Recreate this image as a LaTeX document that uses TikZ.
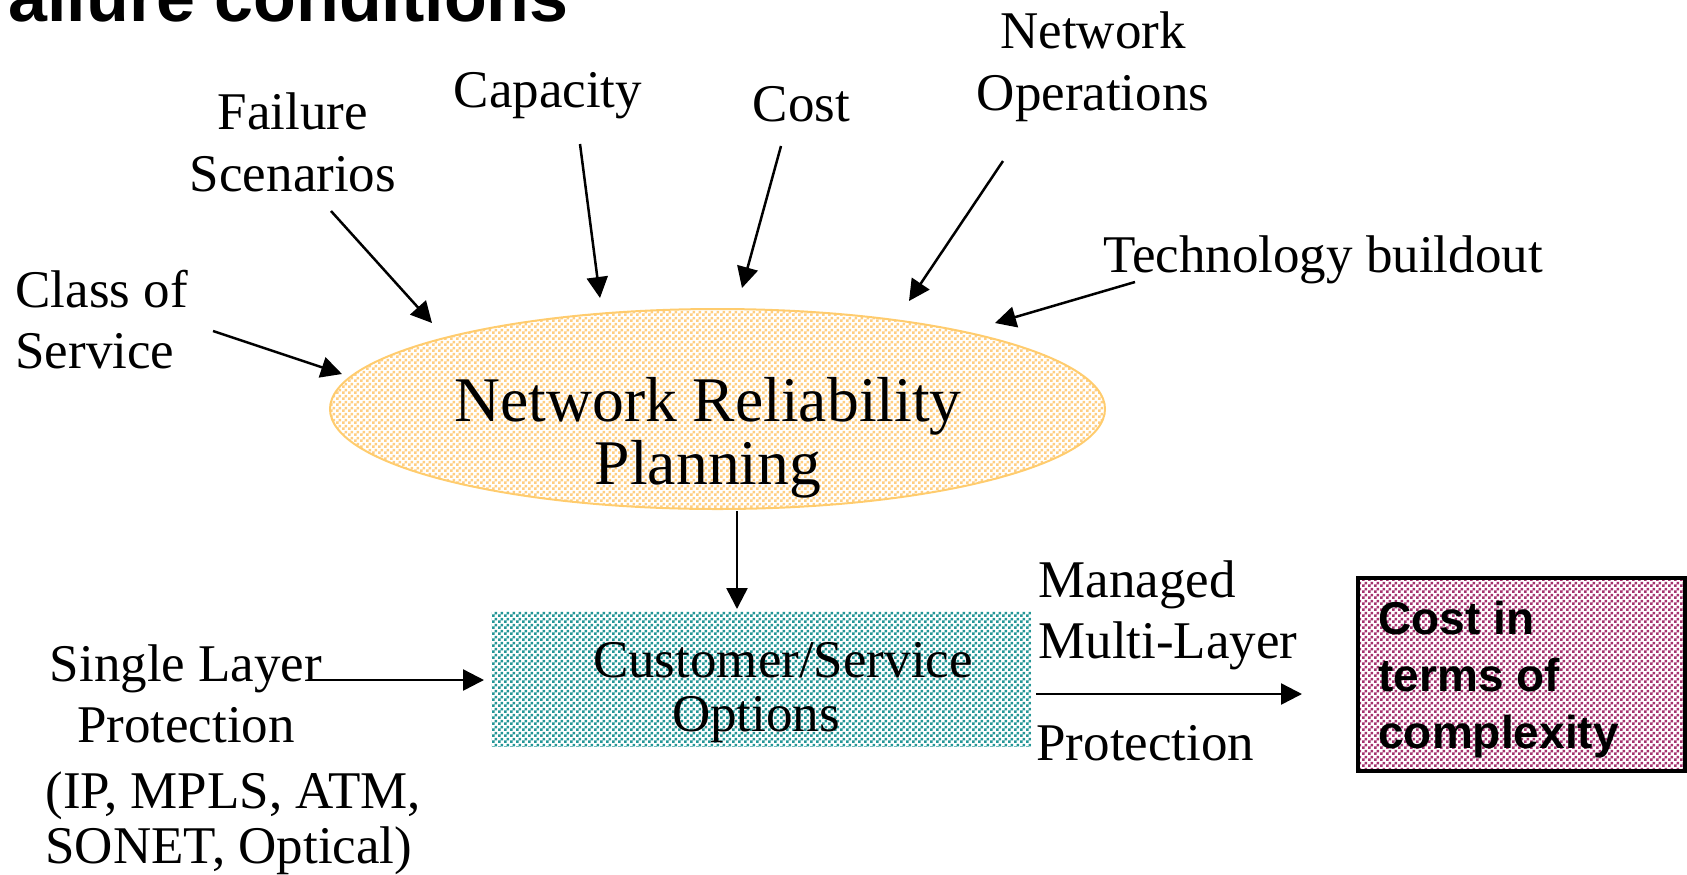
\documentclass[tikz,border=0pt]{standalone}
\usepackage{fontspec}
\setmainfont{Liberation Serif}
\setsansfont{Liberation Sans}
\usetikzlibrary{arrows.meta,shapes.geometric,patterns.meta}
\definecolor{ellfill}{RGB}{255,206,130}
\definecolor{ellline}{RGB}{255,204,110}
\definecolor{tealc}{RGB}{35,150,150}
\definecolor{pinkc}{RGB}{165,50,110}
\pgfdeclarepattern{
  name=checker,
  type=uncolored,
  bottom left={\pgfpointorigin},
  top right={\pgfpoint{3pt}{3pt}},
  tile size={\pgfpoint{3pt}{3pt}},
  code={
    \pgfpathrectangle{\pgfpointorigin}{\pgfpoint{1.5pt}{1.5pt}}
    \pgfpathrectangle{\pgfpoint{1.5pt}{1.5pt}}{\pgfpoint{1.5pt}{1.5pt}}
    \pgfusepath{fill}
  }
}
\newcommand\twolines[3]{\begin{tabular}[t]{@{}#1@{}}#2\\#3\end{tabular}}
\newcommand\threelines[4]{\begin{tabular}[t]{@{}#1@{}}#2\\#3\\#4\end{tabular}}
\begin{document}
\begin{tikzpicture}[x=0.5pt,y=-0.5pt,
  lbl/.style={font=\fontsize{26.5}{30.5}\selectfont, inner sep=0pt, anchor=base},
  arr/.style={-{Triangle[length=10.5pt,width=10.5pt]}, line width=1.25pt},
  ellbox/.style={ellipse, draw=ellline, line width=1pt, pattern=checker, pattern color=ellfill,
    minimum width=387.5pt, minimum height=100pt, inner sep=0pt},
  optbox/.style={rectangle, pattern=checker, pattern color=tealc,
    minimum width=270pt, minimum height=67.5pt, inner sep=0pt},
  cplxbox/.style={rectangle, draw=black, line width=2pt, pattern=checker, pattern color=pinkc,
    minimum width=163.5pt, minimum height=96.5pt, inner sep=0pt}]
\useasboundingbox (0,0) rectangle (1687,874);

% title fragment
\node[anchor=base west, inner sep=0pt, font=\sffamily\bfseries\fontsize{35}{40}\selectfont] (title) at (8,21) {ailure conditions};

% central shapes
\node[ellbox] (ell) at (717.5,409) {};
\node[lbl, font=\fontsize{31.8}{31.25}\selectfont] (elltxt) at (708,421.7) {\twolines{c}{Network Reliability}{Planning}};
\node[optbox] (opt) at (761,678.5) {};
\node[lbl, font=\fontsize{26.5}{26.9}\selectfont] (opttxt) at (783,677.8) {\twolines{c}{Customer/Service}{Options\hspace*{27pt}}};
\node[cplxbox] (cplx) at (1521.5,674.5) {};
\node[lbl, anchor=base west, font=\sffamily\bfseries\fontsize{23}{28.5}\selectfont] (cplxtxt) at (1378,634) {\threelines{l}{Cost in}{terms of}{complexity}};

% labels
\node[lbl, anchor=base west] (cos) at (15,307) {\twolines{l}{Class of}{Service}};
\node[lbl, font=\fontsize{26.5}{31.25}\selectfont] (fail) at (293,129) {\twolines{c}{Failure}{Scenarios}};
\node[lbl] (cap) at (548,107.6) {Capacity};
\node[lbl] (cost) at (801.5,121.6) {Cost};
\node[lbl, font=\fontsize{26.5}{31.2}\selectfont] (netops) at (1093,48.4) {\twolines{c}{Network}{Operations}};
\node[lbl, anchor=base west] (tech) at (1103,272) {Technology buildout};
\node[lbl] (single) at (186,681) {\twolines{c}{Single Layer}{Protection}};
\node[lbl, anchor=base west, font=\fontsize{26.5}{27.5}\selectfont] (layers) at (45,808) {\twolines{l}{(IP, MPLS, ATM,}{SONET, Optical)}};
\node[lbl, anchor=base west] (managed) at (1038,597) {\twolines{l}{Managed}{Multi-Layer}};
\node[lbl, anchor=base west] (prot) at (1036,760) {Protection};

% arrow end points
\coordinate (cosA) at (213,331);   \coordinate (cosB) at (342,374);
\coordinate (failA) at (331,211);  \coordinate (failB) at (432,323);
\coordinate (capA) at (580,144);   \coordinate (capB) at (600,298);
\coordinate (costA) at (781,146);  \coordinate (costB) at (742,288);
\coordinate (netA) at (1003,161);  \coordinate (netB) at (909,301);
\coordinate (techA) at (1135,282); \coordinate (techB) at (995,323);
\coordinate (downA) at (737,511);  \coordinate (downB) at (737,609);
\coordinate (slA) at (312,680);    \coordinate (slB) at (484,680);
\coordinate (mlA) at (1036,694);   \coordinate (mlB) at (1302,694);

\draw[arr] (cosA) -- (cosB);
\draw[arr] (failA) -- (failB);
\draw[arr] (capA) -- (capB);
\draw[arr] (costA) -- (costB);
\draw[arr] (netA) -- (netB);
\draw[arr] (techA) -- (techB);
\draw[arr] (downA) -- (downB);
\draw[arr] (slA) -- (slB);
\draw[arr] (mlA) -- (mlB);
\end{tikzpicture}
\end{document}
